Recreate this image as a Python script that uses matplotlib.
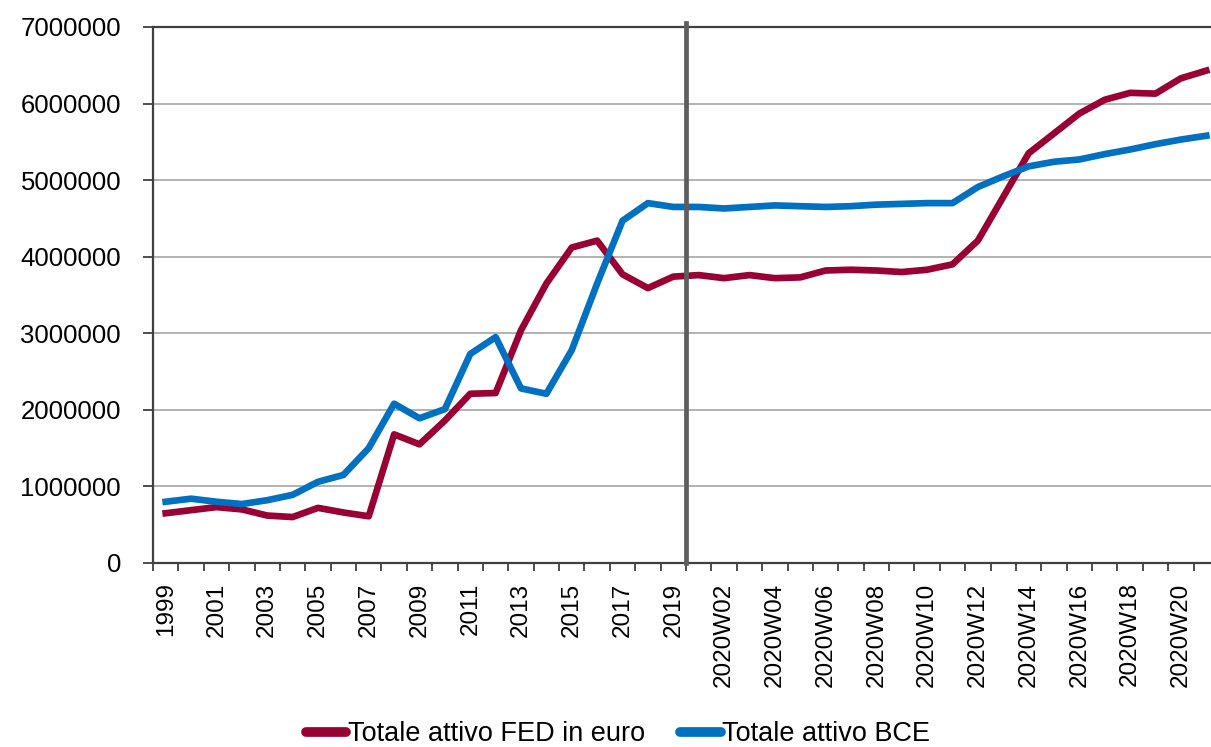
import matplotlib
matplotlib.use("Agg")
import matplotlib.pyplot as plt
import numpy as np

plt.rcParams['font.family'] = ['Liberation Sans', 'DejaVu Sans']

# categories: yearly values, then 2020 weekly values
years = [str(y) for y in range(1999, 2020)]
weeks = ["2020W%02d" % w for w in range(1, 22)]
categories = years + weeks

# Totale attivo FED in euro
fed = [650000, 690000, 730000, 700000, 620000, 600000, 720000, 660000, 610000,
       1680000, 1550000, 1860000, 2210000, 2220000, 3040000, 3650000, 4120000,
       4210000, 3770000, 3590000, 3740000,
       3760000, 3720000, 3760000, 3720000, 3730000, 3820000, 3830000, 3820000,
       3800000, 3830000, 3900000, 4210000, 4780000, 5350000, 5610000, 5870000,
       6050000, 6140000, 6130000, 6330000, 6430000]

# Totale attivo BCE
bce = [800000, 840000, 800000, 770000, 820000, 890000, 1060000, 1150000, 1500000,
       2080000, 1890000, 2010000, 2730000, 2950000, 2280000, 2210000, 2780000,
       3650000, 4470000, 4700000, 4650000,
       4650000, 4630000, 4650000, 4670000, 4660000, 4650000, 4660000, 4680000,
       4690000, 4700000, 4700000, 4910000, 5050000, 5180000, 5240000, 5270000,
       5340000, 5400000, 5470000, 5530000, 5580000]

yticks = [0, 1000000, 2000000, 3000000, 4000000, 5000000, 6000000, 7000000]

W, H = 1211, 747
fig = plt.figure(figsize=(W / 100, H / 100), dpi=100)
n = len(categories)
cat_px = 25.38
ax = fig.add_axes([153 / W, (H - 563) / H, n * cat_px / W, (563 - 27) / H])

x = np.arange(n)
l1, = ax.plot(x, fed, color='#990033', lw=4.8, solid_joinstyle='round',
              label='Totale attivo FED in euro', zorder=3)
l2, = ax.plot(x, bce, color='#0070C0', lw=4.8, solid_joinstyle='round',
              label='Totale attivo BCE', zorder=3)

# separator between yearly and weekly data
ax.axvline(len(years) - 0.5, ymax=1.008, color='#5e5e5e', lw=3.4, zorder=4, clip_on=False)

ax.set_xlim(-0.5, n - 0.5)
ax.set_ylim(0, 7000000)
ax.set_yticks(yticks)
ax.set_yticklabels([str(v) for v in yticks])
ax.yaxis.grid(True, color='#a6a6a6', lw=1.2)
ax.set_axisbelow(True)

# tick marks on category boundaries, labels every other category
ax.set_xticks(np.arange(-0.5, n, 1.0))
ax.set_xticklabels([])
ax.set_xticks(np.arange(0, n, 2), minor=True)
ax.set_xticklabels(categories[::2], minor=True, rotation=90)
ax.tick_params(axis='x', which='major', length=6, width=1.3, color='#404040', direction='out')
ax.tick_params(axis='x', which='minor', length=0, pad=14, labelsize=17.5)
ax.tick_params(axis='y', length=7, width=1.3, color='#404040', pad=16, labelsize=18.5)

for s in ['left', 'bottom', 'top']:
    ax.spines[s].set_color('#404040')
    ax.spines[s].set_linewidth(1.6)
ax.spines['right'].set_visible(False)

fig.legend(handles=[l1, l2], loc='center', bbox_to_anchor=(618 / W, 1 - 734 / H),
           ncol=2, frameon=False, fontsize=19.5, handlelength=1.5,
           handletextpad=0.05, columnspacing=1.3, borderaxespad=0)
for h in fig.legends[0].legend_handles:
    h.set_linewidth(7)
    h.set_solid_capstyle('round')

fig.savefig("out.png", dpi=100)
